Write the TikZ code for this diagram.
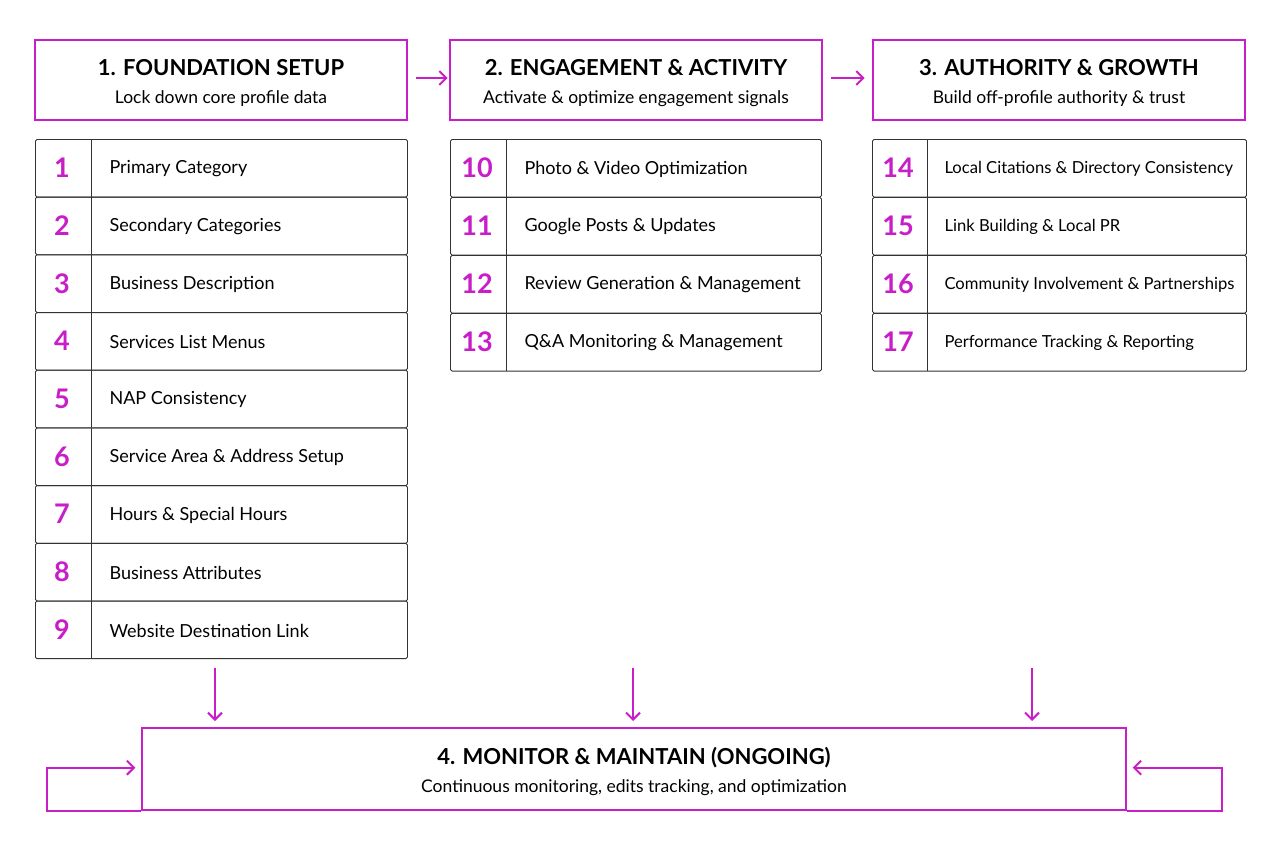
\documentclass[tikz,border=0pt]{standalone}
\usepackage{fontspec}
\setmainfont{Lato}
\usetikzlibrary{positioning,calc,arrows.meta}
\definecolor{Mag}{HTML}{C81EC8}
\definecolor{Edge}{HTML}{333333}
\tikzset{
  head/.style={draw=Mag, line width=1.4pt, minimum width=372pt, minimum height=80pt, inner sep=0pt},
  row/.style={draw=Edge, line width=0.9pt, rounded corners=1.5pt, anchor=north west, minimum height=57.6pt, inner sep=0pt},
  num/.style={text=Mag, font=\fontsize{27}{27}\selectfont\bfseries},
  item/.style={font=\fontsize{18}{19}\selectfont, anchor=west},
  flow/.style={-{Straight Barb[length=7pt,width=14pt]}, Mag, line width=2pt},
}
\begin{document}
\begin{tikzpicture}[x=1pt,y=-1pt]
\useasboundingbox (0,0) rectangle (1280,851);

% phase headers
\node[head] (h1) at (221,80) {};
\node[head] (h2) at (636,80) {};
\node[head] (h3) at (1059,80) {};
\foreach \h/\t/\s in {h1/1. FOUNDATION SETUP/Lock down core profile data,
                      h2/2. ENGAGEMENT \& ACTIVITY/Activate \& optimize engagement signals,
                      h3/3. AUTHORITY \& GROWTH/Build off-profile authority \& trust}{
  \node[font=\fontsize{22}{22}\selectfont\bfseries] at ($(\h)+(0,-12)$) {\t};
  \node[font=\fontsize{17.5}{18}\selectfont] at ($(\h)+(0,19)$) {\s};
}
\draw[flow] (h1.east) ++(8,-2) coordinate (a1) -- ++(32,0) coordinate (a2);
\draw[flow] (h2.east) ++(8,-2) coordinate (b1) -- ++(34,0) coordinate (b2);

% step lists
\foreach \n/\t [count=\i from 0] in {1/Primary Category,2/Secondary Categories,3/Business Description,
    4/Services List Menus,5/NAP Consistency,6/Service Area \& Address Setup,7/Hours \& Special Hours,
    8/Business Attributes,9/Website Destination Link}{
  \node[row, minimum width=372pt] (r\n) at (35,139+57.7*\i) {};
  \draw[Edge, line width=0.9pt] (91,139+57.7*\i) -- (91,139+57.7*\i+57.6);
  \node[num] at (62,139+57.7*\i+29) {\n};
  \node[item] at (106,139+57.7*\i+30) {\t};
}
\foreach \n/\t [count=\i from 0] in {10/Photo \& Video Optimization,11/Google Posts \& Updates,
    12/Review Generation \& Management,13/Q\&A Monitoring \& Management}{
  \node[row, minimum width=371pt] (r\n) at (450,139+58*\i) {};
  \draw[Edge, line width=0.9pt] (506,139+58*\i) -- (506,139+58*\i+57.6);
  \node[num] at (477,139+58*\i+29) {\n};
  \node[item] at (521,139+58*\i+30) {\t};
}
\foreach \n/\t [count=\i from 0] in {14/Local Citations \& Directory Consistency,15/Link Building \& Local PR,
    16/Community Involvement \& Partnerships,17/Performance Tracking \& Reporting}{
  \node[row, minimum width=374pt] (r\n) at (872,139+58*\i) {};
  \draw[Edge, line width=0.9pt] (927,139+58*\i) -- (927,139+58*\i+57.6);
  \node[num] at (898,139+58*\i+29) {\n};
  \node[item, font=\fontsize{16.6}{17}\selectfont] at (941,139+58*\i+30) {\t};
}

% ongoing phase
\node[draw=Mag, line width=1.4pt, minimum width=984pt, minimum height=82pt, inner sep=0pt] (h4) at (634,769) {};
\node[font=\fontsize{22}{22}\selectfont\bfseries] at ($(h4)+(0,-11)$) {4. MONITOR \& MAINTAIN (ONGOING)};
\node[font=\fontsize{17.5}{18}\selectfont] at ($(h4)+(0,19)$) {Continuous monitoring, edits tracking, and optimization};

\coordinate (d1) at (215,668);
\coordinate (d2) at (633,668);
\coordinate (d3) at (1032,668);
\foreach \d in {d1,d2,d3}
  \draw[flow] (\d) -- ++(0,53);

\draw[flow] (h4.south west) -- ++(-94,0) -- ++(0,-43) -- ++(88,0);
\draw[flow] (h4.south east) -- ++(95,0) -- ++(0,-43) -- ++(-89,0);
\end{tikzpicture}
\end{document}
